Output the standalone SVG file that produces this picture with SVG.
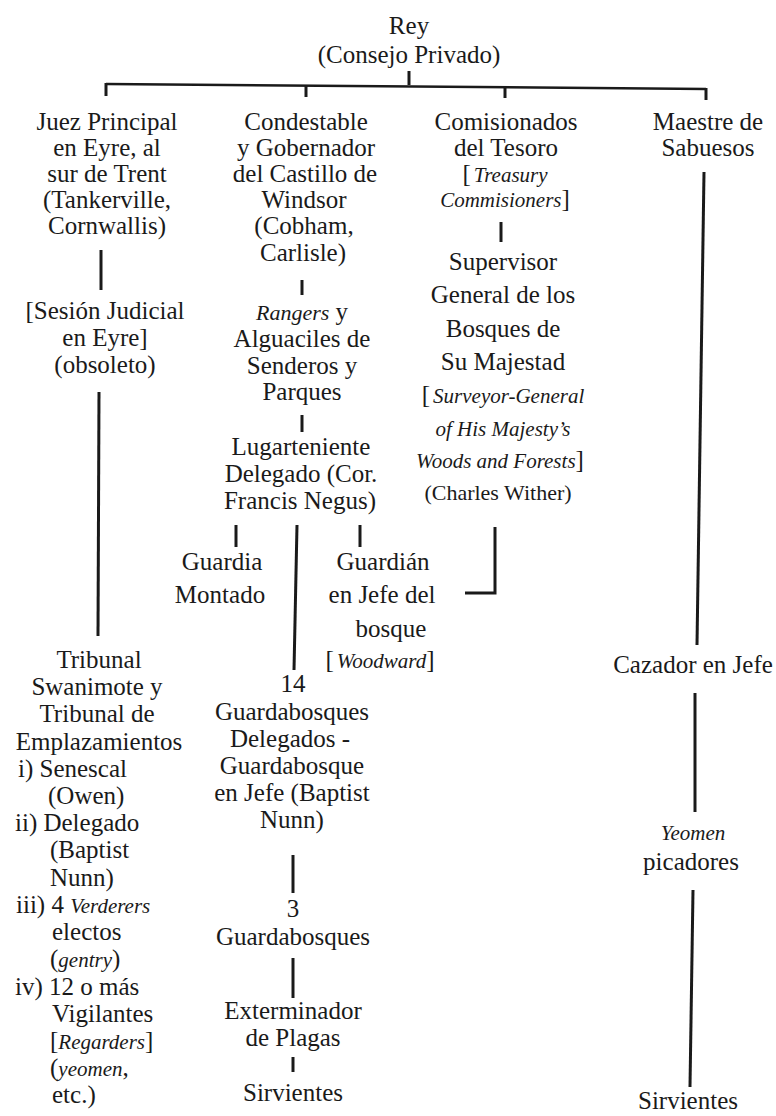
<svg xmlns="http://www.w3.org/2000/svg" width="776" height="1116" viewBox="0 0 776 1116">
<style>
text{font-family:"Liberation Serif","Times New Roman",serif;font-size:25px;fill:#1a1a1a}
.m{text-anchor:middle}
.i{font-style:italic;font-size:21px}
.s{font-size:22px}
.c line,.c polyline{stroke:#1a1a1a;stroke-width:3;fill:none}
.c .h{stroke-width:2.5}
</style>
<rect width="776" height="1116" fill="#fff"/>
<g class="c" id="connectors">
<line x1="409" y1="71" x2="409" y2="85"/>
<line class="h" x1="106" y1="84" x2="706" y2="89"/>
<line x1="106" y1="83" x2="106" y2="96"/>
<line x1="306" y1="86" x2="306" y2="97"/>
<line x1="505" y1="87" x2="505" y2="98"/>
<line x1="706" y1="88" x2="706" y2="100"/>
<line x1="101" y1="250" x2="101" y2="290"/>
<line x1="99" y1="392" x2="98" y2="636"/>
<line x1="302" y1="280" x2="302" y2="295"/>
<line x1="302" y1="415" x2="302" y2="432"/>
<line x1="236" y1="525" x2="236" y2="547"/>
<line x1="360" y1="525" x2="360" y2="547"/>
<line x1="297" y1="525" x2="294" y2="670"/>
<line x1="293" y1="855" x2="293" y2="893"/>
<line x1="293" y1="958" x2="293" y2="998"/>
<line x1="293" y1="1057" x2="293" y2="1072"/>
<line x1="501" y1="222" x2="501" y2="242"/>
<polyline points="495,527 495,593 465,593"/>
<line x1="704" y1="172" x2="697" y2="645"/>
<line x1="695" y1="693" x2="695" y2="812"/>
<line x1="693" y1="890" x2="690" y2="1087"/>
</g>
<g id="rey">
<text class="m" x="409" y="34">Rey</text>
<text class="m" x="409" y="63">(Consejo Privado)</text>
</g>
<g id="juez">
<text class="m" x="107" y="130">Juez Principal</text>
<text class="m" x="107" y="156">en Eyre, al</text>
<text class="m" x="107" y="182">sur de Trent</text>
<text class="m" x="107" y="208">(Tankerville,</text>
<text class="m" x="107" y="234">Cornwallis)</text>
</g>
<g id="sesion">
<text class="m" x="105" y="319">[Sesión Judicial</text>
<text class="m" x="105" y="346">en Eyre]</text>
<text class="m" x="105" y="373">(obsoleto)</text>
</g>
<g id="tribunal">
<text class="m" x="99" y="668">Tribunal</text>
<text class="m" x="97" y="695">Swanimote y</text>
<text class="m" x="97" y="722">Tribunal de</text>
<text class="m" x="99" y="750">Emplazamientos</text>
<text x="18" y="777">i) Senescal</text>
<text x="48" y="804">(Owen)</text>
<text x="15" y="831">ii) Delegado</text>
<text x="50" y="858">(Baptist</text>
<text x="50" y="886">Nunn)</text>
<text x="16" y="913">iii) 4 <tspan class="i">Verderers</tspan></text>
<text x="52" y="940">electos</text>
<text x="50" y="967">(<tspan class="i" font-size="22">gentry</tspan>)</text>
<text x="15" y="995">iv) 12 o más</text>
<text x="52" y="1022">Vigilantes</text>
<text x="50" y="1049">[<tspan class="i" font-size="22">Regarders</tspan>]</text>
<text x="50" y="1076">(<tspan class="i" font-size="22">yeomen</tspan>,</text>
<text x="52" y="1103">etc.)</text>
</g>
<g id="condestable">
<text class="m" x="306" y="130">Condestable</text>
<text class="m" x="306" y="156">y Gobernador</text>
<text class="m" x="305" y="182">del Castillo de</text>
<text class="m" x="304" y="208">Windsor</text>
<text class="m" x="304" y="234">(Cobham,</text>
<text class="m" x="303" y="261">Carlisle)</text>
</g>
<g id="rangers">
<text class="m" x="302" y="320"><tspan font-style="italic" font-size="22">Rangers</tspan> y</text>
<text class="m" x="302" y="347">Alguaciles de</text>
<text class="m" x="302" y="374">Senderos y</text>
<text class="m" x="302" y="400">Parques</text>
</g>
<g id="lugarteniente">
<text class="m" x="301" y="455">Lugarteniente</text>
<text class="m" x="301" y="482">Delegado (Cor.</text>
<text class="m" x="300" y="509">Francis Negus)</text>
</g>
<g id="guardia">
<text class="m" x="222" y="570">Guardia</text>
<text class="m" x="220" y="603">Montado</text>
</g>
<g id="guardian">
<text class="m" x="383" y="570">Guardián</text>
<text class="m" x="382" y="603">en Jefe del</text>
<text class="m" x="391" y="637">bosque</text>
<text class="m" x="380" y="668">[<tspan class="i" dx="3">Woodward</tspan>]</text>
</g>
<g id="guardabosques14">
<text class="m" x="293" y="692">14</text>
<text class="m" x="292" y="720">Guardabosques</text>
<text class="m" x="290" y="747">Delegados -</text>
<text class="m" x="292" y="774">Guardabosque</text>
<text class="m" x="292" y="801">en Jefe (Baptist</text>
<text class="m" x="292" y="828">Nunn)</text>
</g>
<g id="guardabosques3">
<text class="m" x="293" y="917">3</text>
<text class="m" x="293" y="945">Guardabosques</text>
</g>
<g id="exterminador">
<text class="m" x="293" y="1019">Exterminador</text>
<text class="m" x="293" y="1046">de Plagas</text>
</g>
<g id="sirvientes1">
<text class="m" x="293" y="1101">Sirvientes</text>
</g>
<g id="comisionados">
<text class="m" x="506" y="130">Comisionados</text>
<text class="m" x="506" y="156">del Tesoro</text>
<text class="m" x="505" y="182">[<tspan class="i" dx="3">Treasury</tspan></text>
<text class="m" x="505" y="207"><tspan class="i">Commisioners</tspan>]</text>
</g>
<g id="supervisor">
<text class="m" x="503" y="270">Supervisor</text>
<text class="m" x="503" y="303">General de los</text>
<text class="m" x="503" y="337">Bosques de</text>
<text class="m" x="503" y="370">Su Majestad</text>
<text class="m" x="503" y="403">[<tspan class="i" dx="3">Surveyor-General</tspan></text>
<text class="m" x="503" y="436"><tspan class="i">of His Majesty’s</tspan></text>
<text class="m" x="500" y="468"><tspan class="i">Woods and Forests</tspan>]</text>
<text class="m s" x="498" y="500">(Charles Wither)</text>
</g>
<g id="maestre">
<text class="m" x="708" y="130">Maestre de</text>
<text class="m" x="708" y="156">Sabuesos</text>
</g>
<g id="cazador">
<text class="m" x="693" y="673">Cazador en Jefe</text>
</g>
<g id="yeomen">
<text class="m" x="693" y="840"><tspan class="i">Yeomen</tspan></text>
<text class="m" x="691" y="870">picadores</text>
</g>
<g id="sirvientes2">
<text class="m" x="688" y="1109">Sirvientes</text>
</g>
</svg>
